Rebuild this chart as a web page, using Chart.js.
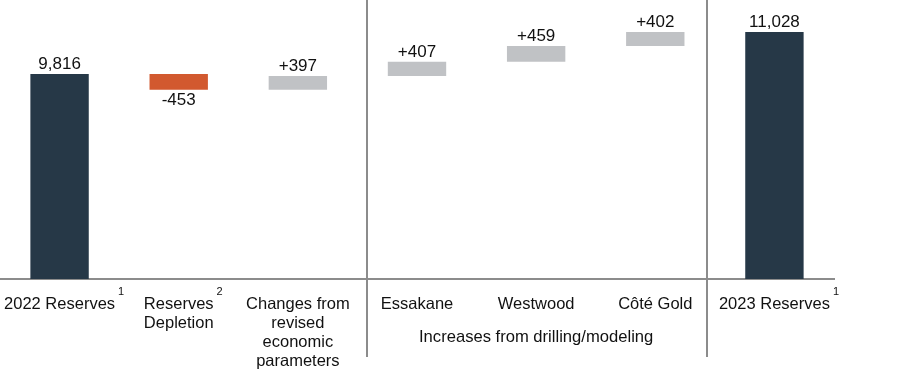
<!DOCTYPE html>
<html>
<head>
<meta charset="utf-8">
<script src="https://cdn.jsdelivr.net/npm/chart.js@4"></script>
<style>
  html, body { margin: 0; padding: 0; background: #fff; }
  #wrap { width: 899px; height: 378px; position: relative; }
</style>
</head>
<body>
<div id="wrap"><canvas id="c" width="899" height="378"></canvas></div>
<script>
// ---- data ----
const categories = [
  ["2022 Reserves"],
  ["Reserves", "Depletion"],
  ["Changes from", "revised", "economic", "parameters"],
  ["Essakane"],
  ["Westwood"],
  ["Côté Gold"],
  ["2023 Reserves"]
];
const footnotes = ["1", "2", "", "", "", "", "1"];
const startValue = 9816;
const changes = [-453, 397, 407, 459, 402];
const endValue = 11028;
const groupLabel = "Increases from drilling/modeling";
const groupCenterIndex = 4;
const dividers = [2.58, 5.43];

// ---- build floating bars ----
const barData = [startValue];
const labelsText = [startValue.toLocaleString('en-US')];
const colors = ['#263847'];
let run = startValue;
changes.forEach(ch => {
  const next = run + ch;
  barData.push([Math.min(run, next), Math.max(run, next)]);
  labelsText.push((ch > 0 ? '+' : '') + ch);
  colors.push(ch < 0 ? '#D2592F' : '#C0C2C5');
  run = next;
});
barData.push(endValue);
labelsText.push(endValue.toLocaleString('en-US'));
colors.push('#263847');

const FONT = '"Liberation Sans", Arial, sans-serif';

const overlay = {
  id: 'overlay',
  afterDatasetsDraw(chart) {
    const ctx = chart.ctx;
    const meta = chart.getDatasetMeta(0);
    const x = chart.scales.x;
    ctx.save();
    // value labels
    ctx.fillStyle = '#111';
    ctx.font = '17px ' + FONT;
    ctx.textAlign = 'center';
    ctx.textBaseline = 'middle';
    meta.data.forEach((bar, i) => {
      const isNeg = i > 0 && i <= changes.length && changes[i - 1] < 0;
      const top = Math.min(bar.y, bar.base);
      const bottom = Math.max(bar.y, bar.base);
      if (isNeg) ctx.fillText(labelsText[i], bar.x, bottom + 11);
      else ctx.fillText(labelsText[i], bar.x, top - 10);
    });
    // dividers
    ctx.strokeStyle = '#8c8c8c';
    ctx.lineWidth = 2;
    dividers.forEach(v => {
      const px = Math.round(x.getPixelForValue(v));
      ctx.beginPath();
      ctx.moveTo(px, 0);
      ctx.lineTo(px, 357);
      ctx.stroke();
    });
    // footnote superscripts
    ctx.font = '16.5px ' + FONT;
    const lineY = chart.chartArea.bottom + 24;
    footnotes.forEach((f, i) => {
      if (!f) return;
      const w = ctx.measureText(categories[i][0]).width;
      const cx = x.getPixelForValue(i);
      ctx.save();
      ctx.font = '11px ' + FONT;
      ctx.textAlign = 'left';
      ctx.fillText(f, cx + w / 2 + 3, lineY - 11);
      ctx.restore();
    });
    // group label
    ctx.font = '16.6px ' + FONT;
    ctx.textAlign = 'center';
    ctx.fillStyle = '#111';
    ctx.fillText(groupLabel, x.getPixelForValue(groupCenterIndex), 337);
    ctx.restore();
  }
};

new Chart(document.getElementById('c'), {
  type: 'bar',
  data: {
    labels: categories,
    datasets: [{
      data: barData,
      backgroundColor: colors,
      borderWidth: 0,
      barPercentage: 0.49,
      categoryPercentage: 1.0
    }]
  },
  options: {
    responsive: false,
    animation: false,
    events: [],
    layout: { padding: { left: -2, right: 65, top: 0, bottom: 0 } },
    plugins: { legend: { display: false }, tooltip: { enabled: false } },
    scales: {
      x: {
        grid: { display: false, drawTicks: false },
        border: { display: true, color: '#8c8c8c', width: 2 },
        ticks: {
          color: '#111',
          font: { family: FONT, size: 16.5, lineHeight: 1.15 },
          padding: 16,
          maxRotation: 0,
          autoSkip: false
        },
        afterFit(scale) {
          scale.height = 99;
          scale.paddingLeft = 0;
          scale.paddingRight = 0;
        }
      },
      y: {
        display: false,
        min: 3900,
        max: 11951
      }
    }
  },
  plugins: [overlay]
});
</script>
</body>
</html>
